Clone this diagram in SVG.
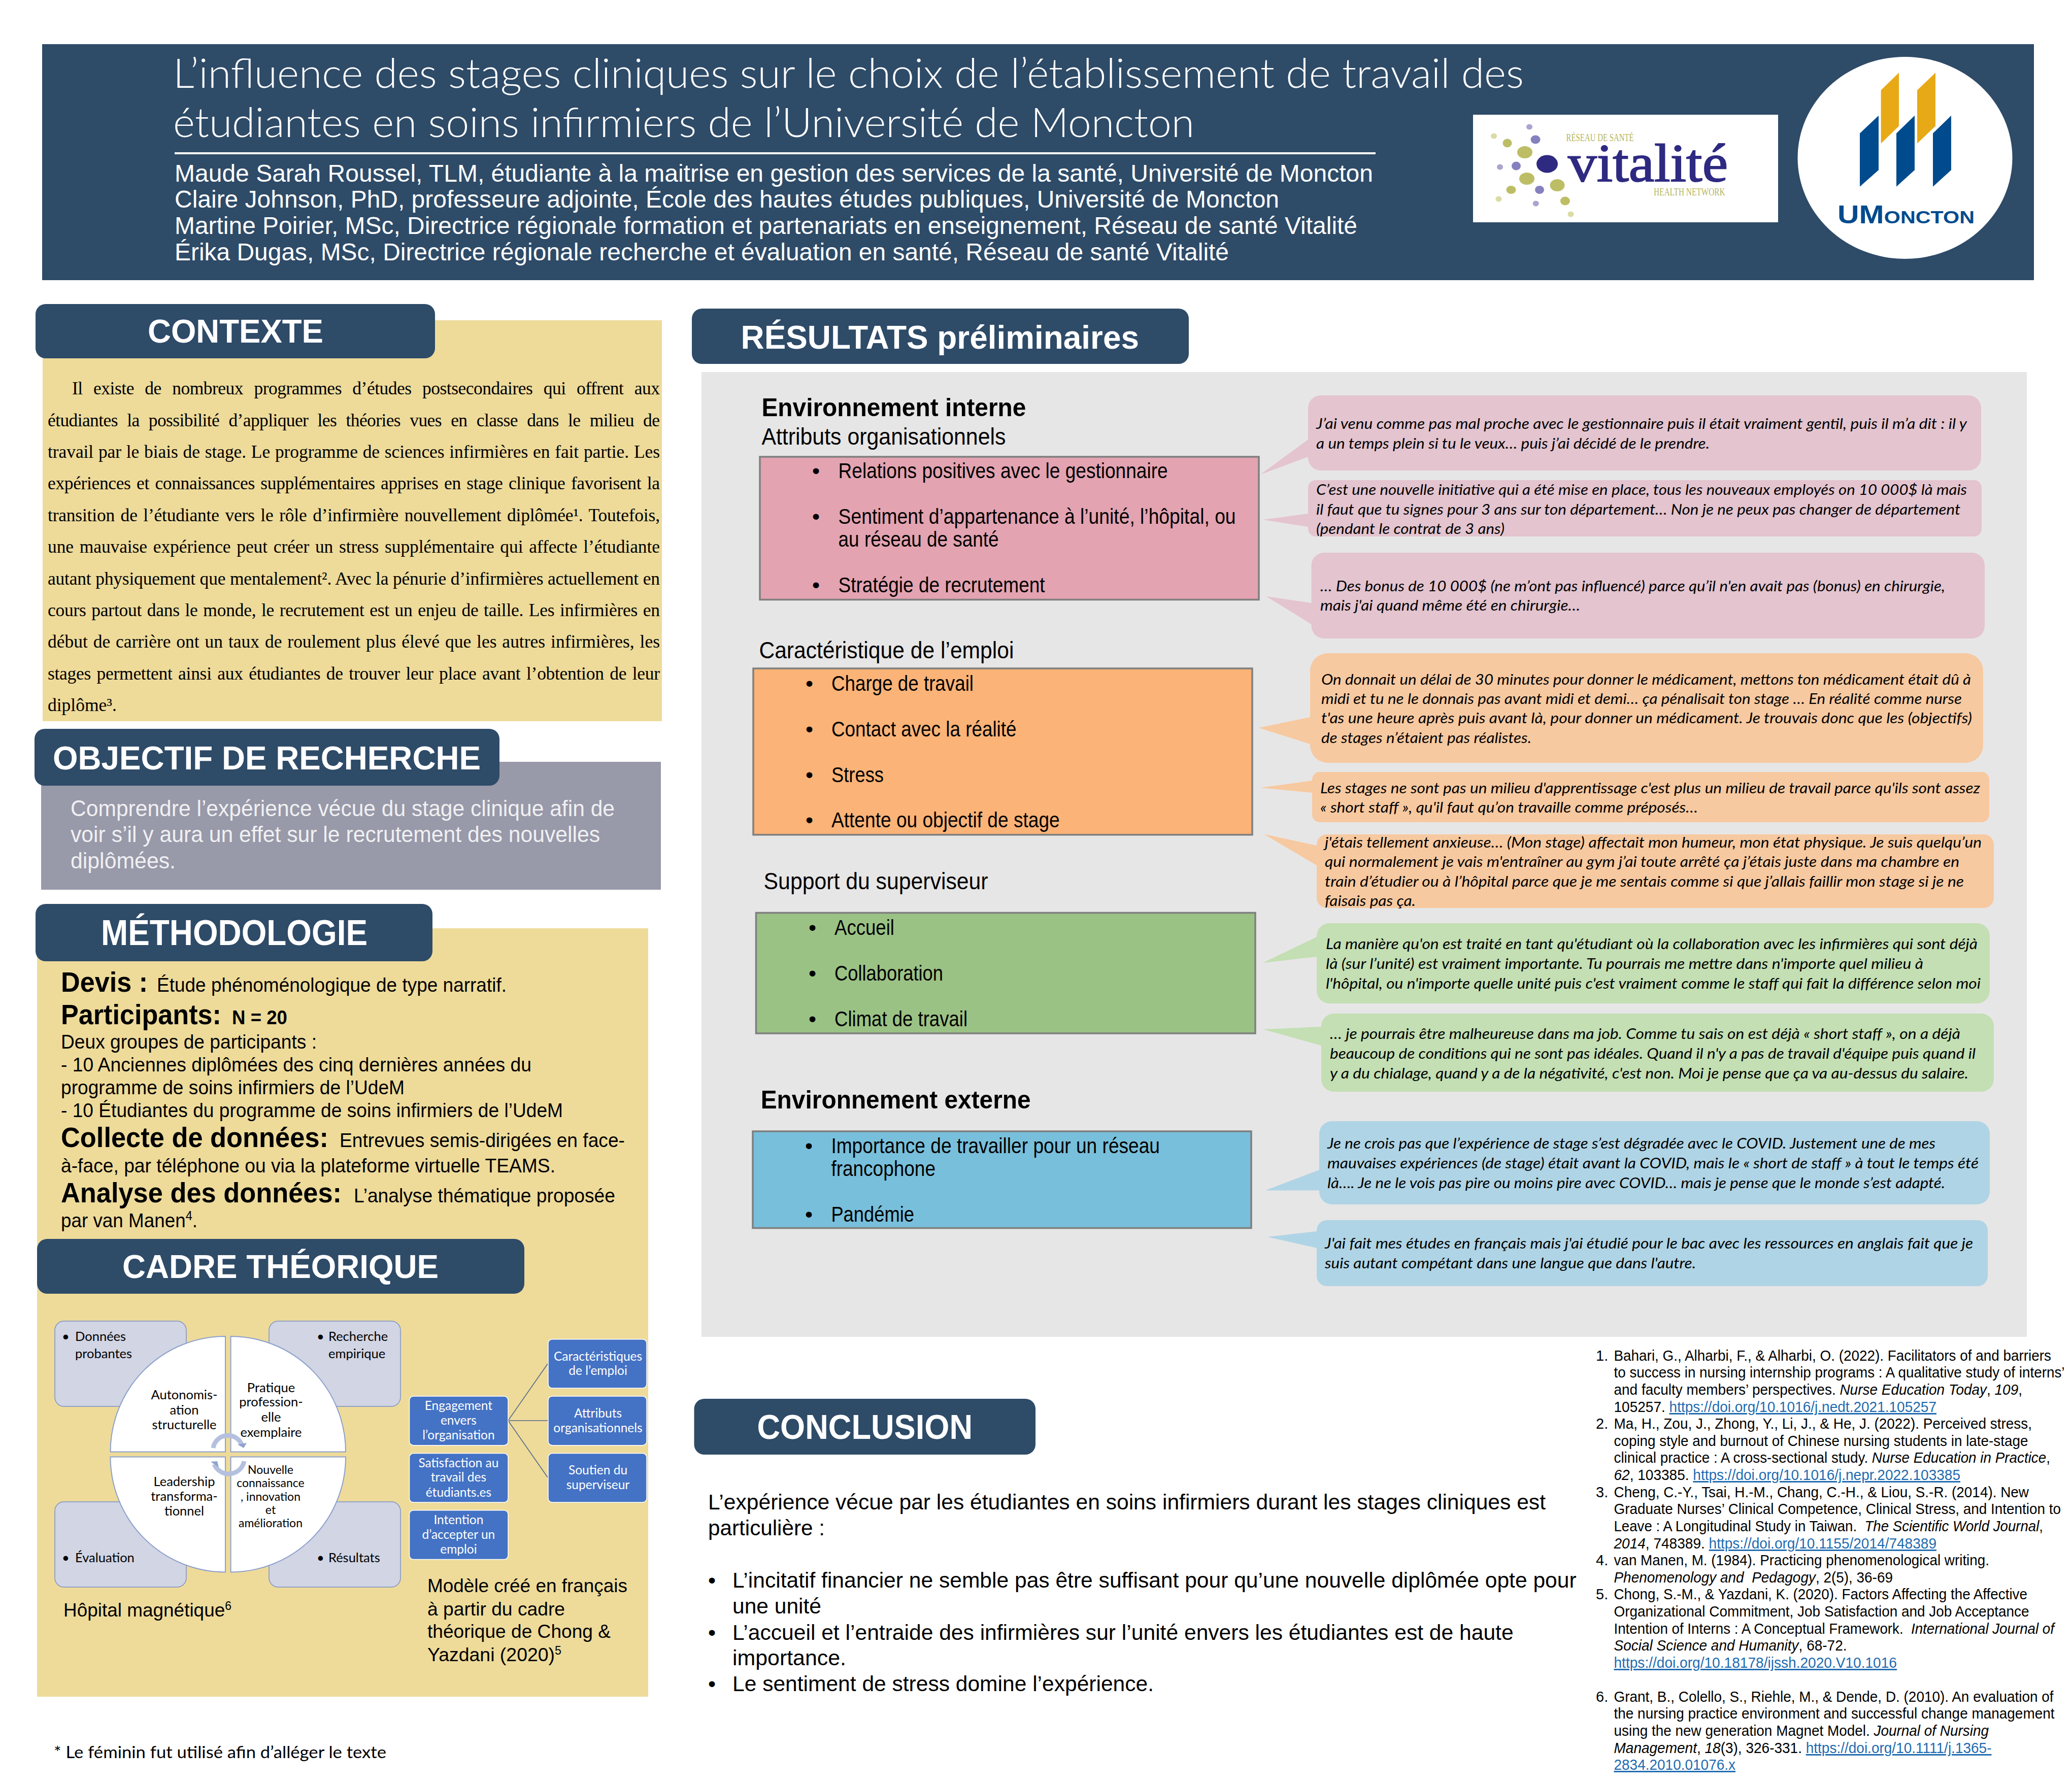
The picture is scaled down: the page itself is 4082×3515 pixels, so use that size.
<svg xmlns="http://www.w3.org/2000/svg" width="4082" height="3515" viewBox="0 0 4082 3515">
<style>
text{font-family:"Liberation Sans",Arial,sans-serif;fill:#000}
.t{font-family:"Lato","Open Sans",sans-serif;font-weight:300;font-size:80px;fill:#fff}
.au{font-size:48px;fill:#fff}
.h{font-weight:700;font-size:65px;fill:#fff}
.hb{fill:#2e4b68}
.beige{fill:#eedb9a}
.p{font-family:"Liberation Serif","Times New Roman",serif;font-size:35.5px}
.obj{font-size:45px;fill:#f0f0f2}
.b52{font-weight:700;font-size:56px}
.m{font-size:39px}
.s{font-size:43px}
.sb{font-size:50px;font-weight:700}
.hdr{font-size:46px}
.box{stroke:#7f7f7f;stroke-width:3.5}
.q{font-family:"Lato","Open Sans",sans-serif;font-style:italic;font-size:29.5px}
.c{font-size:43px}
.r{font-size:29px}
.l{fill:#1f6bb0;text-decoration:underline}
.i{font-style:italic}
.cal{font-family:"Lato","Open Sans",sans-serif;font-size:25.5px}
.mid{text-anchor:middle}
.gb{fill:#d1d5e4;stroke:#7e93c6;stroke-width:1.5}
.pie{fill:#fff;stroke:#8da0cc;stroke-width:2}
.bb{fill:#4472c4;stroke:#fff;stroke-width:1.5}
.bt{font-family:"Lato","Open Sans",sans-serif;font-size:24.5px;fill:#fff;text-anchor:middle}
.m36{font-size:37px}
.arc{fill:none;stroke:#b4c0de;stroke-width:9}
.cn{stroke:#53678a;stroke-width:1.6;fill:none}
</style>

<g id="header">
<rect x="83" y="87" width="3924" height="465" class="hb"/>
<text class="t" x="341" y="173" textLength="2661" lengthAdjust="spacingAndGlyphs">L’influence des stages cliniques sur le choix de l’établissement de travail des</text>
<text class="t" x="341" y="270" textLength="2012" lengthAdjust="spacingAndGlyphs">étudiantes en soins infirmiers de l’Université de Moncton</text>
<rect x="344" y="300" width="2366" height="4" fill="#fff"/>
<text class="au" x="344" y="358" textLength="2361" lengthAdjust="spacingAndGlyphs">Maude Sarah Roussel, TLM, étudiante à la maitrise en gestion des services de la santé, Université de Moncton</text>
<text class="au" x="344" y="409" textLength="2176" lengthAdjust="spacingAndGlyphs">Claire Johnson, PhD, professeure adjointe, École des hautes études publiques, Université de Moncton</text>
<text class="au" x="344" y="461" textLength="2330" lengthAdjust="spacingAndGlyphs">Martine Poirier, MSc, Directrice régionale formation et partenariats en enseignement, Réseau de santé Vitalité</text>
<text class="au" x="344" y="513" textLength="2077" lengthAdjust="spacingAndGlyphs">Érika Dugas, MSc, Directrice régionale recherche et évaluation en santé, Réseau de santé Vitalité</text>
</g>

<g id="logo-vitalite">
<rect x="2902" y="226" width="601" height="212" fill="#fff"/>
<g fill="#a9a5d0">
<ellipse cx="3013" cy="250" rx="6" ry="5.5"/><ellipse cx="2955" cy="329" rx="6" ry="5.5"/><ellipse cx="3025.700" cy="401" rx="6" ry="5.5"/>
</g>
<g fill="#8581bf">
<ellipse cx="3025" cy="275" rx="9.5" ry="8.5"/><ellipse cx="2987" cy="327" rx="9" ry="8.5"/><ellipse cx="3033" cy="374" rx="9" ry="8"/>
</g>
<g fill="#dcdba6">
<ellipse cx="2943" cy="268" rx="6" ry="5.5"/><ellipse cx="2952.500" cy="392" rx="6" ry="5.5"/><ellipse cx="3094.500" cy="422" rx="6" ry="5.5"/>
</g>
<g fill="#bdbd66">
<ellipse cx="2969.500" cy="282" rx="9" ry="8.500"/><ellipse cx="3004" cy="300" rx="15" ry="12"/><ellipse cx="3008" cy="352" rx="15" ry="12"/><ellipse cx="3068" cy="365" rx="14.500" ry="12"/><ellipse cx="2977" cy="374" rx="9.500" ry="8"/><ellipse cx="3083.400" cy="396" rx="9.500" ry="8.500"/>
</g>
<ellipse cx="3048" cy="323" rx="21" ry="17.500" fill="#2e2a82"/>
<text x="3085.600" y="278" font-size="20" textLength="133" lengthAdjust="spacingAndGlyphs" style="font-family:'Liberation Serif',serif;fill:#b4b45c">RÉSEAU DE SANTÉ</text>
<text x="3089" y="357" font-size="106" textLength="315" lengthAdjust="spacingAndGlyphs" style="font-family:'Liberation Serif',serif;fill:#2e2a82;stroke:#2e2a82;stroke-width:2">vitalité</text>
<text x="3258" y="385" font-size="20" textLength="140.600" lengthAdjust="spacingAndGlyphs" style="font-family:'Liberation Serif',serif;fill:#b4b45c">HEALTH NETWORK</text>
</g>

<g id="logo-umoncton">
<ellipse cx="3753" cy="311" rx="211.500" ry="199" fill="#fff"/>
<g fill="#e8a917">
<polygon points="3741,143.300 3741,248.300 3705.600,282.700 3705.600,177.700"/>
<polygon points="3813,143.300 3813,248.300 3777,282.700 3777,177.700"/>
</g>
<g fill="#004b8d">
<polygon points="3701,227.700 3701,335 3664,367.700 3664,262.700"/>
<polygon points="3772,227.700 3772,335 3736,367.700 3736,262.700"/>
<polygon points="3844,227.700 3844,335 3808,367.700 3808,262.700"/>
</g>
<text x="3620" y="440" font-size="50" textLength="270" lengthAdjust="spacingAndGlyphs" style="font-family:'Liberation Sans',sans-serif;fill:#004b8d;font-variant:small-caps;font-weight:700">UMoncton</text>
</g>

<g id="contexte">
<rect x="84" y="631" width="1220" height="790" class="beige"/>
<rect x="70" y="599" width="787" height="107" rx="20" class="hb"/>
<text class="h" x="291" y="675" textLength="346" lengthAdjust="spacingAndGlyphs">CONTEXTE</text>
<text class="p" x="142" y="777" word-spacing="13" textLength="1158" lengthAdjust="spacing">Il existe de nombreux programmes d’études postsecondaires qui offrent aux</text>
<text class="p" x="94" y="840" word-spacing="10" textLength="1206" lengthAdjust="spacing">étudiantes la possibilité d’appliquer les théories vues en classe dans le milieu de</text>
<text class="p" x="94" y="902" word-spacing="1" textLength="1206" lengthAdjust="spacing">travail par le biais de stage. Le programme de sciences infirmières en fait partie. Les</text>
<text class="p" x="94" y="964" word-spacing="3" textLength="1206" lengthAdjust="spacing">expériences et connaissances supplémentaires apprises en stage clinique favorisent la</text>
<text class="p" x="94" y="1027" word-spacing="3" textLength="1206" lengthAdjust="spacing">transition de l’étudiante vers le rôle d’infirmière nouvellement diplômée¹. Toutefois,</text>
<text class="p" x="94" y="1089" word-spacing="3" textLength="1206" lengthAdjust="spacing">une mauvaise expérience peut créer un stress supplémentaire qui affecte l’étudiante</text>
<text class="p" x="94" y="1152" word-spacing="0" textLength="1206" lengthAdjust="spacing">autant physiquement que mentalement². Avec la pénurie d’infirmières actuellement en</text>
<text class="p" x="94" y="1214" word-spacing="2" textLength="1206" lengthAdjust="spacing">cours partout dans le monde, le recrutement est un enjeu de taille. Les infirmières en</text>
<text class="p" x="94" y="1276" word-spacing="2" textLength="1206" lengthAdjust="spacing">début de carrière ont un taux de roulement plus élevé que les autres infirmières, les</text>
<text class="p" x="94" y="1339" word-spacing="3" textLength="1206" lengthAdjust="spacing">stages permettent ainsi aux étudiantes de trouver leur place avant l’obtention de leur</text>
<text class="p" x="94" y="1401">diplôme³.</text>
</g>

<g id="objectif">
<rect x="81" y="1501" width="1221" height="252" fill="#9899a9"/>
<rect x="68" y="1436" width="916" height="112" rx="20" class="hb"/>
<text class="h" x="104" y="1516" textLength="843" lengthAdjust="spacingAndGlyphs">OBJECTIF DE RECHERCHE</text>
<text class="obj" x="139" y="1608" textLength="1072" lengthAdjust="spacingAndGlyphs">Comprendre l’expérience vécue du stage clinique afin de</text>
<text class="obj" x="139" y="1659" textLength="1043" lengthAdjust="spacingAndGlyphs">voir s’il y aura un effet sur le recrutement des nouvelles</text>
<text class="obj" x="139" y="1711" textLength="207" lengthAdjust="spacingAndGlyphs">diplômées.</text>
</g>

<g id="methodologie">
<rect x="73" y="1829" width="1204" height="1514" class="beige"/>
<rect x="70" y="1781" width="782" height="113" rx="20" class="hb"/>
<text class="h" x="199" y="1862" textLength="525" lengthAdjust="spacingAndGlyphs" style="font-size:70px">MÉTHODOLOGIE</text>
<text class="b52" x="120" y="1954" textLength="171" lengthAdjust="spacingAndGlyphs">Devis :</text>
<text class="m" x="309" y="1954" textLength="689" lengthAdjust="spacingAndGlyphs">Étude phénoménologique de type narratif.</text>
<text class="b52" x="120" y="2018" textLength="316" lengthAdjust="spacingAndGlyphs">Participants:</text>
<text class="m" x="457" y="2018" font-weight="700" textLength="109" lengthAdjust="spacingAndGlyphs">N = 20</text>
<text class="m" x="120" y="2066" textLength="504" lengthAdjust="spacingAndGlyphs">Deux groupes de participants :</text>
<text class="m" x="120" y="2111" textLength="927" lengthAdjust="spacingAndGlyphs">- 10 Anciennes diplômées des cinq dernières années du</text>
<text class="m" x="120" y="2156" textLength="677" lengthAdjust="spacingAndGlyphs">programme de soins infirmiers de l’UdeM</text>
<text class="m" x="120" y="2201" textLength="989" lengthAdjust="spacingAndGlyphs">- 10 Étudiantes du programme de soins infirmiers de l’UdeM</text>
<text class="b52" x="120" y="2260" textLength="527" lengthAdjust="spacingAndGlyphs">Collecte de données:</text>
<text class="m" x="669" y="2260" textLength="562" lengthAdjust="spacingAndGlyphs">Entrevues semis-dirigées en face-</text>
<text class="m" x="120" y="2310" textLength="974" lengthAdjust="spacingAndGlyphs">à-face, par téléphone ou via la plateforme virtuelle TEAMS.</text>
<text class="b52" x="120" y="2369" textLength="553" lengthAdjust="spacingAndGlyphs">Analyse des données:</text>
<text class="m" x="697" y="2369" textLength="515" lengthAdjust="spacingAndGlyphs">L’analyse thématique proposée</text>
<text class="m" x="120" y="2418" textLength="269" lengthAdjust="spacingAndGlyphs">par van Manen<tspan font-size="25" baseline-shift="super">4</tspan>.</text>
</g>

<g id="cadre-theorique">
<rect x="73" y="2441" width="960" height="108" rx="20" class="hb"/>
<text class="h" x="241" y="2518" textLength="623" lengthAdjust="spacingAndGlyphs">CADRE THÉORIQUE</text>
</g>

<g id="magnet-model">
<rect class="gb" x="108" y="2603" width="259" height="168" rx="18"/>
<rect class="gb" x="530" y="2603" width="259" height="168" rx="18"/>
<rect class="gb" x="108" y="2959" width="259" height="168" rx="18"/>
<rect class="gb" x="530" y="2959" width="259" height="168" rx="18"/>
<text class="cal" x="122" y="2642">•</text><text class="cal" x="148" y="2642">Données</text><text class="cal" x="148" y="2676">probantes</text>
<text class="cal" x="624" y="2642">•</text><text class="cal" x="647" y="2642">Recherche</text><text class="cal" x="647" y="2676">empirique</text>
<text class="cal" x="122" y="3078">•</text><text class="cal" x="148" y="3078">Évaluation</text>
<text class="cal" x="624" y="3078">•</text><text class="cal" x="647" y="3078">Résultats</text>
<path class="pie" d="M444,2860.600H217.500A226.500,227.600 0 0 1 444,2633Z"/>
<path class="pie" d="M454.600,2860.600H681A226.400,227.600 0 0 0 454.600,2633Z"/>
<path class="pie" d="M444,2870.400H217.500A226.500,227 0 0 0 444,3097.400Z"/>
<path class="pie" d="M454.600,2870.400H681A226.400,227 0 0 1 454.600,3097.400Z"/>
<path class="arc" d="M420,2853A29.500,29.500 0 0 1 477,2848"/>
<polygon points="468,2846 486,2843 480,2853" fill="#8fa2cf"/>
<path class="arc" d="M481,2879A31,31 0 0 1 422,2885"/>
<polygon points="415,2880 428,2879 431,2891" fill="#8fa2cf"/>
<text class="cal mid" x="363" y="2757">Autonomis-</text><text class="cal mid" x="363" y="2787">ation</text><text class="cal mid" x="363" y="2816">structurelle</text>
<text class="cal mid" x="534" y="2743">Pratique</text><text class="cal mid" x="534" y="2771">profession-</text><text class="cal mid" x="534" y="2801">elle</text><text class="cal mid" x="534" y="2831">exemplaire</text>
<text class="cal mid" x="363" y="2928">Leadership</text><text class="cal mid" x="363" y="2957">transforma-</text><text class="cal mid" x="363" y="2986">tionnel</text>
<text class="cal mid" x="533" y="2904" style="font-size:23px">Nouvelle</text><text class="cal mid" x="533" y="2930" style="font-size:23px">connaissance</text><text class="cal mid" x="533" y="2957" style="font-size:23px">, innovation</text><text class="cal mid" x="533" y="2983" style="font-size:23px">et</text><text class="cal mid" x="533" y="3009" style="font-size:23px">amélioration</text>
<text class="m36" x="125" y="3185" textLength="331" lengthAdjust="spacingAndGlyphs">Hôpital magnétique<tspan font-size="23" baseline-shift="super">6</tspan></text>
</g>

<g id="connectors">
<line class="cn" x1="1001" y1="2799" x2="1079" y2="2687"/>
<line class="cn" x1="1001" y1="2799" x2="1079" y2="2799"/>
<line class="cn" x1="1001" y1="2799" x2="1079" y2="2911"/>
</g>

<g id="node-engagement"><rect class="bb" x="806.500" y="2751" width="194.500" height="96.700" rx="8"/><text class="bt" x="903.400" y="2778">Engagement</text><text class="bt" x="903.400" y="2807">envers</text><text class="bt" x="903.400" y="2836">l’organisation</text></g>
<g id="node-satisfaction"><rect class="bb" x="806.500" y="2863.600" width="194.500" height="96.400" rx="8"/><text class="bt" x="903.400" y="2890.500">Satisfaction au</text><text class="bt" x="903.400" y="2919">travail des</text><text class="bt" x="903.400" y="2948.500">étudiants.es</text></g>
<g id="node-intention"><rect class="bb" x="806.500" y="2975.700" width="194.500" height="96.800" rx="8"/><text class="bt" x="903.400" y="3003">Intention</text><text class="bt" x="903.400" y="3032">d’accepter un</text><text class="bt" x="903.400" y="3061">emploi</text></g>
<g id="node-caracteristiques"><rect class="bb" x="1080" y="2638.700" width="194" height="96.300" rx="8"/><text class="bt" x="1178" y="2680.500">Caractéristiques</text><text class="bt" x="1178" y="2709.400">de l’emploi</text></g>
<g id="node-attributs"><rect class="bb" x="1080" y="2751" width="194" height="96.700" rx="8"/><text class="bt" x="1178" y="2793">Attributs</text><text class="bt" x="1178" y="2821.800">organisationnels</text></g>
<g id="node-soutien"><rect class="bb" x="1080" y="2863.600" width="194" height="96.400" rx="8"/><text class="bt" x="1178" y="2905">Soutien du</text><text class="bt" x="1178" y="2934">superviseur</text></g>

<g id="modele-note">
<text class="m36" x="842" y="3137" textLength="394" lengthAdjust="spacingAndGlyphs">Modèle créé en français</text>
<text class="m36" x="842" y="3183" textLength="271" lengthAdjust="spacingAndGlyphs">à partir du cadre</text>
<text class="m36" x="842" y="3227" textLength="361" lengthAdjust="spacingAndGlyphs">théorique de Chong &amp;</text>
<text class="m36" x="842" y="3273" textLength="264" lengthAdjust="spacingAndGlyphs">Yazdani (2020)<tspan font-size="23" baseline-shift="super">5</tspan></text>
</g>
<text x="106" y="3464" textLength="655" lengthAdjust="spacingAndGlyphs" style="font-family:Lato,'Open Sans',sans-serif;font-size:33px">* Le féminin fut utilisé afin d’alléger le texte</text>

<g id="resultats">
<rect x="1382" y="733" width="2611" height="1901" fill="#e7e6e6"/>
<rect x="1363" y="608" width="979" height="109" rx="20" class="hb"/>
<text class="h" x="1459.500" y="687" textLength="784.500" lengthAdjust="spacingAndGlyphs">RÉSULTATS préliminaires</text>
<text class="sb" x="1500.400" y="820" textLength="521" lengthAdjust="spacingAndGlyphs">Environnement interne</text>
<text class="hdr" x="1500.400" y="876" textLength="481" lengthAdjust="spacingAndGlyphs">Attributs organisationnels</text>
<text class="hdr" x="1495.400" y="1297" textLength="502" lengthAdjust="spacingAndGlyphs">Caractéristique de l’emploi</text>
<text class="hdr" x="1504.600" y="1752" textLength="442" lengthAdjust="spacingAndGlyphs">Support du superviseur</text>
<text class="sb" x="1498.700" y="2184" textLength="532" lengthAdjust="spacingAndGlyphs">Environnement externe</text>
</g>

<g id="attributs-box">
<rect class="box" x="1497" y="900" width="983" height="281.500" fill="#e3a3b1"/>
<text class="s" x="1600" y="942">•</text><text class="s" x="1651.600" y="942" textLength="649" lengthAdjust="spacingAndGlyphs">Relations positives avec le gestionnaire</text>
<text class="s" x="1600" y="1032">•</text><text class="s" x="1651.600" y="1032" textLength="783" lengthAdjust="spacingAndGlyphs">Sentiment d’appartenance à l’unité, l’hôpital, ou</text>
<text class="s" x="1651.600" y="1077" textLength="316" lengthAdjust="spacingAndGlyphs">au réseau de santé</text>
<text class="s" x="1600" y="1167">•</text><text class="s" x="1651.600" y="1167" textLength="407" lengthAdjust="spacingAndGlyphs">Stratégie de recrutement</text>
</g>
<g id="emploi-box">
<rect class="box" x="1484" y="1317" width="983" height="327.700" fill="#fbb377"/>
<text class="s" x="1587" y="1361">•</text><text class="s" x="1638" y="1361" textLength="280" lengthAdjust="spacingAndGlyphs">Charge de travail</text>
<text class="s" x="1587" y="1451">•</text><text class="s" x="1638" y="1451" textLength="364.500" lengthAdjust="spacingAndGlyphs">Contact avec la réalité</text>
<text class="s" x="1587" y="1541">•</text><text class="s" x="1638" y="1541" textLength="103" lengthAdjust="spacingAndGlyphs">Stress</text>
<text class="s" x="1587" y="1630">•</text><text class="s" x="1638" y="1630" textLength="449.700" lengthAdjust="spacingAndGlyphs">Attente ou objectif de stage</text>
</g>
<g id="superviseur-box">
<rect class="box" x="1489.500" y="1798.500" width="983.500" height="237.500" fill="#9bc285"/>
<text class="s" x="1593" y="1842">•</text><text class="s" x="1644" y="1842" textLength="118" lengthAdjust="spacingAndGlyphs">Accueil</text>
<text class="s" x="1593" y="1932">•</text><text class="s" x="1644" y="1932" textLength="214" lengthAdjust="spacingAndGlyphs">Collaboration</text>
<text class="s" x="1593" y="2022">•</text><text class="s" x="1644" y="2022" textLength="262" lengthAdjust="spacingAndGlyphs">Climat de travail</text>
</g>
<g id="externe-box">
<rect class="box" x="1483" y="2229" width="982" height="190.600" fill="#78bfdb"/>
<text class="s" x="1586" y="2272">•</text><text class="s" x="1637.400" y="2272" textLength="647.600" lengthAdjust="spacingAndGlyphs">Importance de travailler pour un réseau</text>
<text class="s" x="1637.400" y="2317" textLength="205.600" lengthAdjust="spacingAndGlyphs">francophone</text>
<text class="s" x="1586" y="2407">•</text><text class="s" x="1637.400" y="2407" textLength="163.600" lengthAdjust="spacingAndGlyphs">Pandémie</text>
</g>

<g id="quote-1">
<path fill="#e3c4cf" d="M2602,779H3878A25,25 0 0 1 3903,804V902A25,25 0 0 1 3878,927H2602A25,25 0 0 1 2577,902V900L2483,935L2577,866V804A25,25 0 0 1 2602,779Z"/>
<text class="q" x="2593" y="845" textLength="1282" lengthAdjust="spacingAndGlyphs">J’ai venu comme pas mal proche avec le gestionnaire puis il était vraiment gentil, puis il m’a dit : il y</text>
<text class="q" x="2593" y="884" textLength="775" lengthAdjust="spacingAndGlyphs">a un temps plein si tu le veux… puis j’ai décidé de le prendre.</text>
</g>
<g id="quote-2">
<path fill="#e3c4cf" d="M2592,946H3889A15,15 0 0 1 3904,961V1042A15,15 0 0 1 3889,1057H2592A15,15 0 0 1 2577,1042V1038L2488,1024L2577,1012V961A15,15 0 0 1 2592,946Z"/>
<text class="q" x="2593" y="975" textLength="1282" lengthAdjust="spacingAndGlyphs">C’est une nouvelle initiative qui a été mise en place, tous les nouveaux employés on 10 000$ là mais</text>
<text class="q" x="2593" y="1014" textLength="1269" lengthAdjust="spacingAndGlyphs">il faut que tu signes pour 3 ans sur ton département… Non je ne peux pas changer de département</text>
<text class="q" x="2593" y="1052" textLength="371" lengthAdjust="spacingAndGlyphs">(pendant le contrat de 3 ans)</text>
</g>
<g id="quote-3">
<path fill="#e3c4cf" d="M2608.500,1089H3885A25,25 0 0 1 3910,1114V1233A25,25 0 0 1 3885,1258H2608.500A25,25 0 0 1 2583.500,1233V1230L2494.500,1175L2583.500,1188V1114A25,25 0 0 1 2608.500,1089Z"/>
<text class="q" x="2601" y="1165" textLength="1231" lengthAdjust="spacingAndGlyphs">… Des bonus de 10 000$ (ne m’ont pas influencé) parce qu’il n'en avait pas (bonus) en chirurgie,</text>
<text class="q" x="2601" y="1203" textLength="512" lengthAdjust="spacingAndGlyphs">mais j'ai quand même été en chirurgie…</text>
</g>
<g id="quote-4">
<path fill="#f7c9a0" d="M2616,1287H3872A35,35 0 0 1 3907,1322V1468A35,35 0 0 1 3872,1503H2616A35,35 0 0 1 2581,1468V1466L2480,1434L2581,1413V1322A35,35 0 0 1 2616,1287Z"/>
<text class="q" x="2603" y="1349" textLength="1280" lengthAdjust="spacingAndGlyphs">On donnait un délai de 30 minutes pour donner le médicament, mettons ton médicament était dû à</text>
<text class="q" x="2603" y="1387" textLength="1262" lengthAdjust="spacingAndGlyphs">midi et tu ne le donnais pas avant midi et demi… ça pénalisait ton stage … En réalité comme nurse</text>
<text class="q" x="2603" y="1425" textLength="1282" lengthAdjust="spacingAndGlyphs">t'as une heure après puis avant là, pour donner un médicament.  Je trouvais donc que les (objectifs)</text>
<text class="q" x="2603" y="1464" textLength="414" lengthAdjust="spacingAndGlyphs">de stages n’étaient pas réalistes.</text>
</g>
<g id="quote-5">
<path fill="#f7c9a0" d="M2600,1521H3904A15,15 0 0 1 3919,1536V1605A15,15 0 0 1 3904,1620H2600A15,15 0 0 1 2585,1605V1562L2483,1552L2585,1538V1536A15,15 0 0 1 2600,1521Z"/>
<text class="q" x="2601" y="1563" textLength="1300" lengthAdjust="spacingAndGlyphs">Les stages ne sont pas un milieu d'apprentissage c'est plus un milieu de travail parce qu'ils sont assez</text>
<text class="q" x="2601" y="1601" textLength="744" lengthAdjust="spacingAndGlyphs">« short staff », qu'il faut qu’on travaille comme préposés…</text>
</g>
<g id="quote-6">
<path fill="#f7c9a0" d="M2614,1644H3908A20,20 0 0 1 3928,1664V1769A20,20 0 0 1 3908,1789H2614A20,20 0 0 1 2594,1769V1705L2490,1643.500L2594,1666V1664A20,20 0 0 1 2614,1644Z"/>
<text class="q" x="2610" y="1670" textLength="1294" lengthAdjust="spacingAndGlyphs">j'étais tellement anxieuse… (Mon stage) affectait mon humeur, mon état physique.  Je suis quelqu’un</text>
<text class="q" x="2610" y="1708" textLength="1250" lengthAdjust="spacingAndGlyphs">qui normalement je vais m'entraîner au gym j’ai toute arrêté ça j’étais juste dans ma chambre en</text>
<text class="q" x="2610" y="1747" textLength="1259" lengthAdjust="spacingAndGlyphs">train d’étudier ou à l’hôpital parce que je me sentais comme si que j’allais faillir mon stage si je ne</text>
<text class="q" x="2610" y="1785" textLength="179" lengthAdjust="spacingAndGlyphs">faisais pas ça.</text>
</g>
<g id="quote-7">
<path fill="#c3dfb3" d="M2619,1819H3895A25,25 0 0 1 3920,1844V1952A25,25 0 0 1 3895,1977H2619A25,25 0 0 1 2594,1952V1885L2488,1897L2594,1846V1844A25,25 0 0 1 2619,1819Z"/>
<text class="q" x="2612" y="1870" textLength="1284" lengthAdjust="spacingAndGlyphs">La manière qu'on est traité en tant qu'étudiant où la collaboration avec les infirmières qui sont déjà</text>
<text class="q" x="2612" y="1909" textLength="1177" lengthAdjust="spacingAndGlyphs">là (sur l’unité) est vraiment importante. Tu pourrais me mettre dans n'importe quel milieu à</text>
<text class="q" x="2612" y="1948" textLength="1290" lengthAdjust="spacingAndGlyphs">l'hôpital, ou n'importe quelle unité puis c'est vraiment comme le staff qui fait la différence selon moi</text>
</g>
<g id="quote-8">
<path fill="#c3dfb3" d="M2628,1997H3903A25,25 0 0 1 3928,2022V2126A25,25 0 0 1 3903,2151H2628A25,25 0 0 1 2603,2126V2060L2488,2028L2603,2023V2022A25,25 0 0 1 2628,1997Z"/>
<text class="q" x="2620" y="2047" textLength="1242" lengthAdjust="spacingAndGlyphs">… je pourrais être malheureuse dans ma job. Comme tu sais on est déjà « short staff », on a déjà</text>
<text class="q" x="2620" y="2086" textLength="1272" lengthAdjust="spacingAndGlyphs">beaucoup de conditions qui ne sont pas idéales. Quand il n'y a pas de travail d'équipe puis quand il</text>
<text class="q" x="2620" y="2125" textLength="1258" lengthAdjust="spacingAndGlyphs">y a du chialage, quand y a de la négativité, c'est non. Moi je pense que ça va au-dessus du salaire.</text>
</g>
<g id="quote-9">
<path fill="#afd4e5" d="M2624,2209H3895A25,25 0 0 1 3920,2234V2348A25,25 0 0 1 3895,2373H2624A25,25 0 0 1 2599,2348V2345.500H2493L2599,2305V2234A25,25 0 0 1 2624,2209Z"/>
<text class="q" x="2615" y="2263" textLength="1198" lengthAdjust="spacingAndGlyphs">Je ne crois pas que l’expérience de stage s’est dégradée avec le COVID. Justement une de mes</text>
<text class="q" x="2615" y="2302" textLength="1283" lengthAdjust="spacingAndGlyphs">mauvaises expériences (de stage) était avant la COVID, mais le « short de staff » à tout le temps été</text>
<text class="q" x="2615" y="2341" textLength="1217" lengthAdjust="spacingAndGlyphs">là…. Je ne le vois pas pire ou moins pire avec COVID… mais je pense que le monde s’est adapté.</text>
</g>
<g id="quote-10">
<path fill="#afd4e5" d="M2614,2404H3896A20,20 0 0 1 3916,2424V2514A20,20 0 0 1 3896,2534H2614A20,20 0 0 1 2594,2514V2459L2497,2437L2594,2426V2424A20,20 0 0 1 2614,2404Z"/>
<text class="q" x="2610" y="2460" textLength="1277" lengthAdjust="spacingAndGlyphs">J'ai fait mes études en français mais j'ai étudié pour le bac avec les ressources en anglais fait que je</text>
<text class="q" x="2610" y="2499" textLength="731" lengthAdjust="spacingAndGlyphs">suis autant compétant dans une langue que dans l'autre.</text>
</g>

<g id="conclusion">
<rect x="1367.500" y="2756" width="672.500" height="110" rx="20" class="hb"/>
<text class="h" x="1491.500" y="2835" textLength="424.500" lengthAdjust="spacingAndGlyphs" style="font-size:68px">CONCLUSION</text>
<text class="c" x="1395" y="2974" textLength="1650" lengthAdjust="spacingAndGlyphs">L’expérience vécue par les étudiantes en soins infirmiers durant les stages cliniques est</text>
<text class="c" x="1395" y="3025" textLength="230" lengthAdjust="spacingAndGlyphs">particulière :</text>
<text class="c" x="1395" y="3128">•</text><text class="c" x="1443" y="3128" textLength="1662.600" lengthAdjust="spacingAndGlyphs">L’incitatif financier ne semble pas être suffisant pour qu’une nouvelle diplômée opte pour</text>
<text class="c" x="1443" y="3179" textLength="175" lengthAdjust="spacingAndGlyphs">une unité</text>
<text class="c" x="1395" y="3231">•</text><text class="c" x="1443" y="3231" textLength="1538.600" lengthAdjust="spacingAndGlyphs">L’accueil et l’entraide des infirmières sur l’unité envers les étudiantes est de haute</text>
<text class="c" x="1443" y="3281" textLength="224" lengthAdjust="spacingAndGlyphs">importance.</text>
<text class="c" x="1395" y="3332">•</text><text class="c" x="1443" y="3332" textLength="830" lengthAdjust="spacingAndGlyphs">Le sentiment de stress domine l’expérience.</text>
</g>

<g id="references">
<text class="r" x="3144" y="2681">1.</text><text class="r" x="3179.500" y="2681" textLength="861.500" lengthAdjust="spacingAndGlyphs">Bahari, G., Alharbi, F., &amp; Alharbi, O. (2022). Facilitators of and barriers</text>
<text class="r" x="3179.500" y="2714" textLength="888" lengthAdjust="spacingAndGlyphs">to success in nursing internship programs : A qualitative study of interns’</text>
<text class="r" x="3179.500" y="2748" textLength="804.500" lengthAdjust="spacingAndGlyphs">and faculty members’ perspectives. <tspan class="i">Nurse Education Today</tspan>, <tspan class="i">109</tspan>,</text>
<text class="r" x="3179.500" y="2782" textLength="635.500" lengthAdjust="spacingAndGlyphs">105257. <tspan class="l">https://doi.org/10.1016/j.nedt.2021.105257</tspan></text>
<text class="r" x="3144" y="2815">2.</text><text class="r" x="3179.500" y="2815" textLength="823.500" lengthAdjust="spacingAndGlyphs">Ma, H., Zou, J., Zhong, Y., Li, J., &amp; He, J. (2022). Perceived stress,</text>
<text class="r" x="3179.500" y="2849" textLength="816" lengthAdjust="spacingAndGlyphs">coping style and burnout of Chinese nursing students in late-stage</text>
<text class="r" x="3179.500" y="2882" textLength="859.500" lengthAdjust="spacingAndGlyphs">clinical practice : A cross-sectional study. <tspan class="i">Nurse Education in Practice</tspan>,</text>
<text class="r" x="3179.500" y="2916" textLength="682.500" lengthAdjust="spacingAndGlyphs"><tspan class="i">62</tspan>, 103385. <tspan class="l">https://doi.org/10.1016/j.nepr.2022.103385</tspan></text>
<text class="r" x="3144" y="2950">3.</text><text class="r" x="3179.500" y="2950" textLength="817.500" lengthAdjust="spacingAndGlyphs">Cheng, C.-Y., Tsai, H.-M., Chang, C.-H., &amp; Liou, S.-R. (2014). New</text>
<text class="r" x="3179.500" y="2983" textLength="880.500" lengthAdjust="spacingAndGlyphs">Graduate Nurses’ Clinical Competence, Clinical Stress, and Intention to</text>
<text class="r" x="3179.500" y="3017" textLength="845.500" lengthAdjust="spacingAndGlyphs" xml:space="preserve">Leave : A Longitudinal Study in Taiwan.  <tspan class="i">The Scientific World Journal</tspan>,</text>
<text class="r" x="3179.500" y="3051" textLength="635.500" lengthAdjust="spacingAndGlyphs"><tspan class="i">2014</tspan>, 748389. <tspan class="l">https://doi.org/10.1155/2014/748389</tspan></text>
<text class="r" x="3144" y="3084">4.</text><text class="r" x="3179.500" y="3084" textLength="739.500" lengthAdjust="spacingAndGlyphs">van Manen, M. (1984). Practicing phenomenological writing.</text>
<text class="r" x="3179.500" y="3118" textLength="549.500" lengthAdjust="spacingAndGlyphs" xml:space="preserve"><tspan class="i">Phenomenology and  Pedagogy</tspan>, 2(5), 36-69</text>
<text class="r" x="3144" y="3151">5.</text><text class="r" x="3179.500" y="3151" textLength="814.500" lengthAdjust="spacingAndGlyphs">Chong, S.-M., &amp; Yazdani, K. (2020). Factors Affecting the Affective</text>
<text class="r" x="3179.500" y="3185" textLength="818" lengthAdjust="spacingAndGlyphs">Organizational Commitment, Job Satisfaction and Job Acceptance</text>
<text class="r" x="3179.500" y="3219" textLength="867.500" lengthAdjust="spacingAndGlyphs" xml:space="preserve">Intention of Interns : A Conceptual Framework.  <tspan class="i">International Journal of</tspan></text>
<text class="r" x="3179.500" y="3252" textLength="459" lengthAdjust="spacingAndGlyphs"><tspan class="i">Social Science and Humanity</tspan>, 68-72.</text>
<text class="r" x="3179.500" y="3286" textLength="557.500" lengthAdjust="spacingAndGlyphs"><tspan class="l">https://doi.org/10.18178/ijssh.2020.V10.1016</tspan></text>
<text class="r" x="3144" y="3353">6.</text><text class="r" x="3179.500" y="3353" textLength="866" lengthAdjust="spacingAndGlyphs">Grant, B., Colello, S., Riehle, M., &amp; Dende, D. (2010). An evaluation of</text>
<text class="r" x="3179.500" y="3386" textLength="868" lengthAdjust="spacingAndGlyphs">the nursing practice environment and successful change management</text>
<text class="r" x="3179.500" y="3420" textLength="738.500" lengthAdjust="spacingAndGlyphs">using the new generation Magnet Model. <tspan class="i">Journal of Nursing</tspan></text>
<text class="r" x="3179.500" y="3454" textLength="744" lengthAdjust="spacingAndGlyphs"><tspan class="i">Management</tspan>, <tspan class="i">18</tspan>(3), 326-331. <tspan class="l">https://doi.org/10.1111/j.1365-</tspan></text>
<text class="r" x="3179.500" y="3487" textLength="239.500" lengthAdjust="spacingAndGlyphs"><tspan class="l">2834.2010.01076.x</tspan></text>
</g>
</svg>
